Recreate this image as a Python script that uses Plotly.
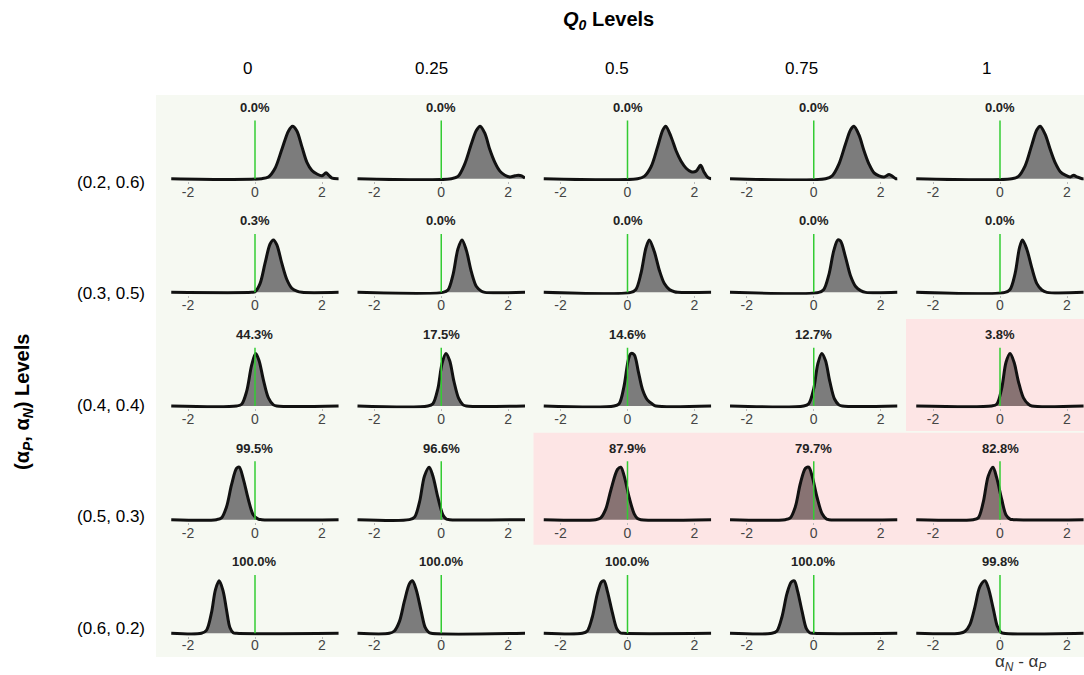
import plotly.graph_objects as go

# ---------------- data ----------------
q0_levels = ["0", "0.25", "0.5", "0.75", "1"]
alpha_levels = ["(0.2, 0.6)", "(0.3, 0.5)", "(0.4, 0.4)", "(0.5, 0.3)", "(0.6, 0.2)"]

pct_labels = [
    ["0.0%", "0.0%", "0.0%", "0.0%", "0.0%"],
    ["0.3%", "0.0%", "0.0%", "0.0%", "0.0%"],
    ["44.3%", "17.5%", "14.6%", "12.7%", "3.8%"],
    ["99.5%", "96.6%", "87.9%", "79.7%", "82.8%"],
    ["100.0%", "100.0%", "100.0%", "100.0%", "99.8%"],
]

highlight = [
    [0, 0, 0, 0, 0],
    [0, 0, 0, 0, 0],
    [0, 0, 0, 0, 1],
    [0, 0, 1, 1, 1],
    [0, 0, 0, 0, 0],
]

# relative density heights (posterior of alpha_N - alpha_P), one list per panel
row1_x = [
    [-2.5, 0.2, 0.4, 0.6, 0.8, 1.0, 1.12, 1.25, 1.4, 1.55, 1.7, 1.85, 2.0, 2.12, 2.2, 2.3, 2.5],
    [-2.5, 0.3, 0.5, 0.7, 0.9, 1.05, 1.16, 1.3, 1.45, 1.6, 1.75, 1.9, 2.05, 2.2, 2.3, 2.4, 2.5],
    [-2.5, 0.3, 0.5, 0.7, 0.9, 1.05, 1.14, 1.3, 1.45, 1.6, 1.75, 1.9, 2.05, 2.18, 2.28, 2.4, 2.5],
    [-2.5, 0.35, 0.55, 0.75, 0.95, 1.1, 1.2, 1.35, 1.5, 1.65, 1.8, 1.95, 2.1, 2.25, 2.35, 2.45, 2.5],
    [-2.5, 0.35, 0.55, 0.75, 0.95, 1.1, 1.2, 1.35, 1.5, 1.65, 1.8, 1.95, 2.1, 2.2, 2.3, 2.45, 2.5],
]
row1_y = [
    [0, 0, 0.03, 0.18, 0.5, 0.82, 0.9, 0.82, 0.55, 0.28, 0.14, 0.08, 0.05, 0.1, 0.06, 0.01, 0],
    [0, 0, 0.04, 0.25, 0.6, 0.83, 0.9, 0.78, 0.5, 0.28, 0.13, 0.06, 0.03, 0.05, 0.06, 0.05, 0.01],
    [0, 0, 0.04, 0.2, 0.55, 0.83, 0.9, 0.72, 0.48, 0.3, 0.18, 0.12, 0.13, 0.23, 0.12, 0.02, 0],
    [0, 0, 0.05, 0.25, 0.6, 0.84, 0.9, 0.75, 0.48, 0.25, 0.1, 0.05, 0.03, 0.07, 0.04, 0, 0],
    [0, 0, 0.04, 0.22, 0.58, 0.84, 0.9, 0.76, 0.5, 0.27, 0.12, 0.06, 0.03, 0.06, 0.03, 0, 0],
]

row2_x = [
    [-2.5, -0.1, 0.0, 0.15, 0.3, 0.45, 0.55, 0.65, 0.8, 0.95, 1.1, 1.25, 1.4, 2.5],
    [-2.5, 0.05, 0.2, 0.35, 0.5, 0.62, 0.75, 0.9, 1.05, 1.2, 1.3, 2.5],
    [-2.5, 0.1, 0.25, 0.4, 0.55, 0.65, 0.8, 0.95, 1.1, 1.25, 1.4, 1.5, 2.5],
    [-2.5, 0.15, 0.3, 0.45, 0.6, 0.72, 0.8, 0.95, 1.1, 1.25, 1.4, 1.55, 2.5],
    [-2.5, 0.15, 0.3, 0.45, 0.58, 0.67, 0.8, 0.95, 1.1, 1.25, 1.4, 2.5],
]
row2_y = [
    [0, 0, 0.01, 0.15, 0.5, 0.83, 0.9, 0.82, 0.5, 0.22, 0.07, 0.02, 0, 0],
    [0, 0, 0.04, 0.3, 0.75, 0.9, 0.72, 0.35, 0.1, 0.02, 0, 0],
    [0, 0, 0.05, 0.32, 0.76, 0.9, 0.7, 0.38, 0.15, 0.05, 0.01, 0, 0],
    [0, 0, 0.05, 0.3, 0.72, 0.9, 0.88, 0.6, 0.28, 0.1, 0.03, 0, 0],
    [0, 0, 0.05, 0.32, 0.76, 0.9, 0.74, 0.42, 0.15, 0.04, 0, 0],
]

row3_x = [
    [-2.5, -0.55, -0.4, -0.25, -0.1, 0.02, 0.12, 0.25, 0.4, 0.55, 0.65, 2.5],
    [-2.5, -0.4, -0.25, -0.1, 0.02, 0.14, 0.25, 0.38, 0.52, 0.65, 0.75, 2.5],
    [-2.5, -0.4, -0.25, -0.1, 0.02, 0.1, 0.2, 0.32, 0.45, 0.6, 0.75, 0.85, 2.5],
    [-2.5, -0.3, -0.15, 0.0, 0.12, 0.24, 0.35, 0.48, 0.62, 0.75, 0.85, 2.5],
    [-2.5, -0.25, -0.1, 0.05, 0.18, 0.3, 0.42, 0.55, 0.7, 0.85, 0.95, 2.5],
]
row3_y = [
    [0, 0, 0.03, 0.25, 0.7, 0.9, 0.78, 0.45, 0.14, 0.02, 0, 0],
    [0, 0, 0.04, 0.3, 0.72, 0.9, 0.78, 0.42, 0.13, 0.02, 0, 0],
    [0, 0, 0.04, 0.35, 0.78, 0.9, 0.88, 0.6, 0.28, 0.1, 0.03, 0, 0],
    [0, 0, 0.04, 0.3, 0.72, 0.9, 0.78, 0.42, 0.12, 0.02, 0, 0],
    [0, 0, 0.03, 0.3, 0.75, 0.9, 0.75, 0.42, 0.14, 0.03, 0, 0],
]

row4_x = [
    [-2.5, -1.15, -1.0, -0.85, -0.7, -0.55, -0.47, -0.35, -0.2, -0.05, 0.1, 0.2, 2.5],
    [-2.5, -0.95, -0.8, -0.65, -0.5, -0.36, -0.25, -0.1, 0.05, 0.15, 0.25, 2.5],
    [-2.5, -0.95, -0.8, -0.65, -0.5, -0.3, -0.2, -0.1, 0.05, 0.2, 0.3, 0.4, 2.5],
    [-2.5, -0.85, -0.7, -0.55, -0.4, -0.25, -0.15, -0.05, 0.1, 0.25, 0.38, 0.45, 2.5],
    [-2.5, -0.8, -0.65, -0.5, -0.35, -0.21, -0.1, 0.05, 0.18, 0.3, 0.4, 2.5],
]
row4_y = [
    [0, 0, 0.03, 0.22, 0.6, 0.88, 0.9, 0.7, 0.35, 0.08, 0.01, 0, 0],
    [0, 0, 0.04, 0.3, 0.75, 0.9, 0.75, 0.38, 0.08, 0.01, 0, 0],
    [0, 0, 0.03, 0.18, 0.5, 0.86, 0.9, 0.75, 0.38, 0.1, 0.02, 0, 0],
    [0, 0, 0.03, 0.22, 0.62, 0.88, 0.9, 0.75, 0.38, 0.1, 0.01, 0, 0],
    [0, 0, 0.03, 0.3, 0.75, 0.9, 0.72, 0.35, 0.08, 0.01, 0, 0],
]

row5_x = [
    [-2.5, -1.6, -1.45, -1.3, -1.18, -1.07, -0.95, -0.85, -0.75, -0.65, -0.55, 2.5],
    [-2.5, -1.55, -1.4, -1.25, -1.1, -0.95, -0.86, -0.75, -0.6, -0.48, -0.38, -0.3, 2.5],
    [-2.5, -1.35, -1.2, -1.05, -0.9, -0.78, -0.7, -0.6, -0.45, -0.32, -0.22, -0.12, 2.5],
    [-2.5, -1.25, -1.1, -0.95, -0.8, -0.67, -0.58, -0.48, -0.35, -0.22, -0.12, 0.0, 2.5],
    [-2.5, -1.2, -1.05, -0.9, -0.75, -0.6, -0.45, -0.35, -0.2, -0.08, 0.02, 0.1, 2.5],
]
row5_y = [
    [0, 0, 0.05, 0.35, 0.75, 0.9, 0.72, 0.4, 0.1, 0.01, 0, 0],
    [0, 0, 0.04, 0.2, 0.55, 0.85, 0.9, 0.75, 0.38, 0.1, 0.02, 0, 0],
    [0, 0, 0.04, 0.28, 0.68, 0.88, 0.9, 0.72, 0.35, 0.08, 0.01, 0, 0],
    [0, 0, 0.04, 0.28, 0.68, 0.88, 0.9, 0.72, 0.38, 0.08, 0.01, 0, 0],
    [0, 0, 0.03, 0.15, 0.45, 0.8, 0.9, 0.78, 0.42, 0.12, 0.02, 0, 0],
]

all_x = [row1_x, row2_x, row3_x, row4_x, row5_x]
all_y = [row1_y, row2_y, row3_y, row4_y, row5_y]

# ---------------- layout geometry (pixels) ----------------
W, H = 1084, 675
FONT = "Liberation Sans, Arial, sans-serif"
ZERO0, COL_STEP = 255.0, 186.25       # x pixel of value 0 in first column, column pitch
BASE0, ROW_STEP = 178.7, 113.65       # y pixel of baseline in first row, row pitch
PX_X = 33.5                           # pixels per x unit
PX_Y = 58.3                           # pixels per y unit
XR = [-2.6, 2.5]
YR = [-0.04, 1.25]

BG_GREEN = "#f6f9f2"
BG_PINK = "#fde5e5"
FILL_N = "#7c7c7c"
FILL_H = "#887373"


def px(x):
    return x / W


def py(y):
    return 1 - y / H


fig = go.Figure()
layout_axes = {}
annotations = []
shapes = [
    dict(type="rect", xref="paper", yref="paper", x0=px(156), x1=1, y0=py(657), y1=py(95),
         fillcolor=BG_GREEN, line_width=0, layer="below")
]

for r in range(5):
    base = BASE0 + ROW_STEP * r
    for c in range(5):
        zero = ZERO0 + COL_STEP * c
        n = r * 5 + c + 1
        sx = "" if n == 1 else str(n)
        if highlight[r][c]:
            shapes.append(dict(type="rect", xref="paper", yref="paper",
                               x0=px(zero - 94), x1=min(1, px(zero + 92.5)),
                               y0=py(base + 25), y1=py(base - 87),
                               fillcolor=BG_PINK, line_width=0, layer="below"))
        fig.add_trace(go.Scatter(
            x=all_x[r][c], y=all_y[r][c], mode="lines",
            line=dict(color="#111111", width=3, shape="spline", smoothing=0.9),
            fill="tozeroy", fillcolor=FILL_H if highlight[r][c] else FILL_N,
            xaxis="x" + sx, yaxis="y" + sx, showlegend=False, hoverinfo="skip"))
        fig.add_trace(go.Scatter(
            x=[0, 0], y=[0, 1], mode="lines", line=dict(color="#33cc33", width=1.5),
            xaxis="x" + sx, yaxis="y" + sx, showlegend=False, hoverinfo="skip"))
        layout_axes["xaxis" + sx] = dict(
            domain=[px(zero + XR[0] * PX_X), min(1, px(zero + XR[1] * PX_X))],
            range=XR, anchor="y" + sx, tickvals=[-2, 0, 2], ticktext=["-2", "0", "2"],
            showgrid=False, zeroline=False, showline=False,
            ticks="outside", ticklen=2, tickcolor="#bbbbbb",
            ticklabelstandoff=-5 if r == 4 else -4,
            tickfont=dict(family=FONT, size=14, color="#444444"), fixedrange=True)
        layout_axes["yaxis" + sx] = dict(
            domain=[py(base - YR[0] * PX_Y), py(base - YR[1] * PX_Y)],
            range=YR, anchor="x" + sx, visible=False, fixedrange=True)
        annotations.append(dict(
            x=0, y=1.225, xref="x" + sx, yref="y" + sx, text="<b>" + pct_labels[r][c] + "</b>",
            showarrow=False, xanchor="center", yanchor="middle",
            font=dict(family=FONT, size=13, color="#222222")))

# column headers
for c, lab in enumerate(q0_levels):
    zero = ZERO0 + COL_STEP * c
    annotations.append(dict(x=px(zero - 8 - 1.3 * c), y=py(68), xref="paper", yref="paper", text=lab,
                            showarrow=False, xanchor="center", yanchor="middle",
                            font=dict(family=FONT, size=17, color="#000000")))
# row labels
for r, lab in enumerate(alpha_levels):
    annotations.append(dict(x=px(147), y=py(182 + 111.5 * r), xref="paper", yref="paper", text=lab,
                            showarrow=False, xanchor="right", yanchor="middle",
                            font=dict(family=FONT, size=17, color="#000000")))

annotations.append(dict(x=px(608), y=py(21), xref="paper", yref="paper",
                        text="<b><i>Q</i><sub><i>0</i></sub> Levels</b>", showarrow=False,
                        xanchor="center", yanchor="middle",
                        font=dict(family=FONT, size=20, color="#000000")))
annotations.append(dict(x=px(24), y=py(402), xref="paper", yref="paper",
                        text="<b>(α<sub><i>P</i></sub>, α<sub><i>N</i></sub>) Levels</b>",
                        showarrow=False, textangle=-90, xanchor="center", yanchor="middle",
                        font=dict(family=FONT, size=20, color="#000000")))
annotations.append(dict(x=px(1020), y=py(675), xref="paper", yref="paper",
                        text="α<sub><i>N</i></sub> - α<sub><i>P</i></sub>", showarrow=False,
                        xanchor="center", yanchor="bottom", borderpad=0,
                        font=dict(family=FONT, size=17, color="#333333")))

fig.update_layout(
    width=W, height=H, margin=dict(l=0, r=0, t=0, b=0),
    paper_bgcolor="white", plot_bgcolor="rgba(0,0,0,0)",
    showlegend=False, hovermode=False,
    annotations=annotations, shapes=shapes, **layout_axes)

fig.write_html("out.html", config={"displayModeBar": False})
